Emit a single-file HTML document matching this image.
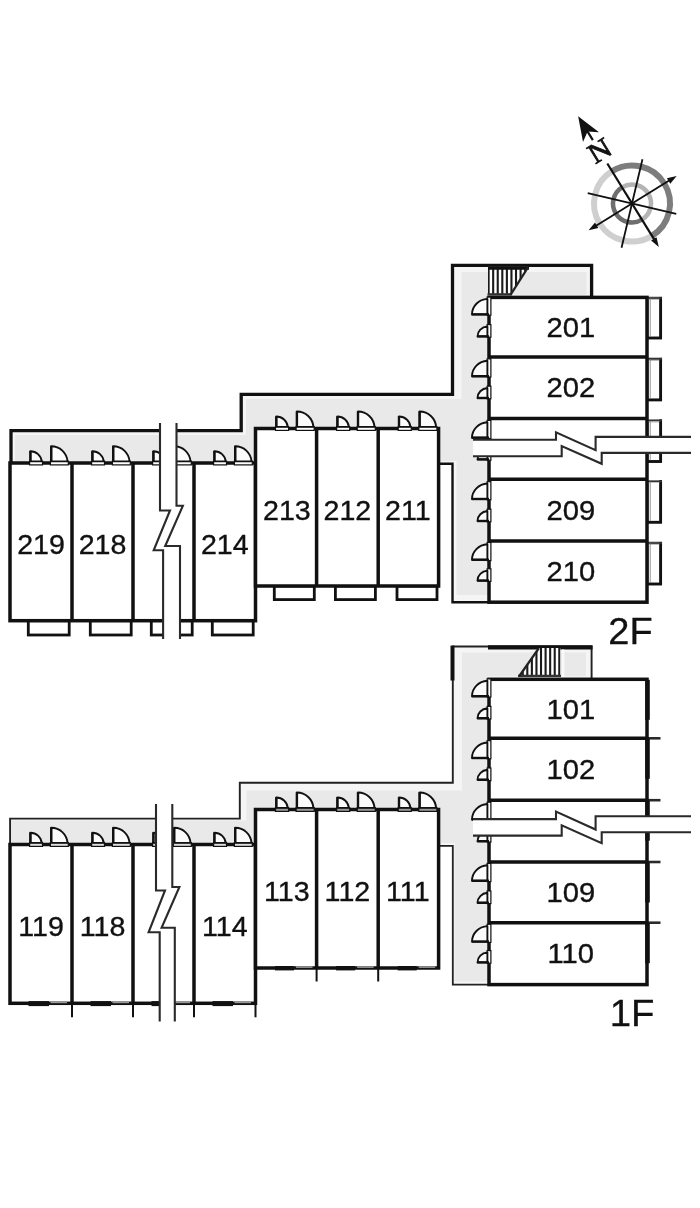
<!DOCTYPE html>
<html lang="ja">
<head>
<meta charset="utf-8">
<title>Floor plan 1F / 2F</title>
<style>
html,body{margin:0;padding:0;background:#fff;}
body{width:700px;height:1208px;overflow:hidden;font-family:"Liberation Sans",Arial,sans-serif;}
svg{display:block;transform:translateZ(0);will-change:transform;}
</style>
</head>
<body>
<svg width="700" height="1208" viewBox="0 0 700 1208" font-family="'Liberation Sans', Arial, sans-serif" fill="#111">
<rect width="700" height="1208" fill="#fff"/>
<g transform="translate(632.0 203.5) rotate(-31.7)">
<path d="M0 -38.0 A38.0 38.0 0 0 1 0 38.0" fill="none" stroke="#7d7d7d" stroke-width="6"/>
<path d="M0 38.0 A38.0 38.0 0 0 1 0 -38.0" fill="none" stroke="#cfcfcf" stroke-width="6"/>
<path d="M0 -19.0 A19.0 19.0 0 0 1 0 19.0" fill="none" stroke="#b4b4b4" stroke-width="4.5"/>
<path d="M0 19.0 A19.0 19.0 0 0 1 0 -19.0" fill="none" stroke="#6e6e6e" stroke-width="4.5"/>
<path d="M0 -88 L0 -74.5 M0 -47 L0 46" stroke="#111" stroke-width="2.2" fill="none"/>
<path d="M-46.5 0 L47.5 0" stroke="#111" stroke-width="1.9" fill="none"/>
<g transform="rotate(45)"><path d="M0 -45.5 L0 45.5 M-45.5 0 L45.5 0" stroke="#111" stroke-width="1.8" fill="none"/></g>
<path d="M0 -102.5 L9.4 -78 L0 -84.5 L-9.4 -78 Z" fill="#111"/>
<path d="M0 51 L3.2 41.5 L-3.2 41.5 Z" fill="#111"/>
<path d="M52.5 0 L43 -3.2 L43 3.2 Z" fill="#111"/>
<path d="M-51 0 L-41.5 -3.2 L-41.5 3.2 Z" fill="#111"/>
<text font-family="'Liberation Serif', serif" font-size="28.5" text-anchor="middle" stroke="#111" stroke-width="0.8" transform="translate(0.3 -52.6) scale(1.07 1)">N</text>
</g>
<path d="M452.5 265.4 L591.6 265.4 L591.6 297.4 L489 297.4 L489 602.2 L452.5 602.2 L452.5 463.8 L438.6 463.8 L438.6 428.5 L255.5 428.5 L255.5 463 L11 463 L11 430.6 L241.2 430.6 L241.2 394.4 L452.5 394.4 Z" fill="#f5f5f5"/>
<path d="M461.5 272 L586.5 272 L586.5 294.8 L487.5 294.8 L487.5 595 L456.5 595 L456.5 461 L441 461 L441 427 L255.5 427 L255.5 461.3 L15 461.3 L15 435 L246 435 L246 399 L461.5 399 Z" fill="#e9e9e9"/>
<path d="M591.6 297.4 L591.6 265.4 L452.5 265.4 L452.5 394.4 L241.2 394.4 L241.2 430.6 L11 430.6 L11 463" fill="none" stroke="#111" stroke-width="3.3" stroke-linejoin="miter"/>
<path d="M438.6 463.8 L452.5 463.8 L452.5 602.2 L489 602.2" fill="none" stroke="#111" stroke-width="2.4" stroke-linejoin="miter"/>
<clipPath id="st2"><path d="M488.0 266.4 L528.0 266.4 L510.5 294.8 L488.0 294.8 Z"/></clipPath>
<g clip-path="url(#st2)">
<rect x="488" y="266.4" width="40" height="28.4" fill="#fff"/>
<line x1="488.6" y1="266.4" x2="488.6" y2="294.8" stroke="#1a1a1a" stroke-width="2.1" stroke-linecap="butt"/>
<line x1="493.17" y1="266.4" x2="493.17" y2="294.8" stroke="#1a1a1a" stroke-width="2.1" stroke-linecap="butt"/>
<line x1="497.74" y1="266.4" x2="497.74" y2="294.8" stroke="#1a1a1a" stroke-width="2.1" stroke-linecap="butt"/>
<line x1="502.31" y1="266.4" x2="502.31" y2="294.8" stroke="#1a1a1a" stroke-width="2.1" stroke-linecap="butt"/>
<line x1="506.88" y1="266.4" x2="506.88" y2="294.8" stroke="#1a1a1a" stroke-width="2.1" stroke-linecap="butt"/>
<line x1="511.45" y1="266.4" x2="511.45" y2="294.8" stroke="#1a1a1a" stroke-width="2.1" stroke-linecap="butt"/>
<line x1="516.02" y1="266.4" x2="516.02" y2="294.8" stroke="#1a1a1a" stroke-width="2.1" stroke-linecap="butt"/>
<line x1="520.59" y1="266.4" x2="520.59" y2="294.8" stroke="#1a1a1a" stroke-width="2.1" stroke-linecap="butt"/>
<line x1="525.16" y1="266.4" x2="525.16" y2="294.8" stroke="#1a1a1a" stroke-width="2.1" stroke-linecap="butt"/>
</g>
<line x1="488" y1="268" x2="529" y2="268" stroke="#111" stroke-width="3.4" stroke-linecap="butt"/>
<line x1="487.5" y1="294.4" x2="511.5" y2="294.4" stroke="#333" stroke-width="2.4" stroke-linecap="butt"/>
<line x1="528" y1="267.4" x2="510.5" y2="294.8" stroke="#222" stroke-width="2.2" stroke-linecap="butt"/>
<rect x="28.3" y="620.7" width="40.9" height="14.3" fill="#fff" stroke="#111" stroke-width="2.8"/>
<rect x="90.3" y="620.7" width="40.9" height="14.3" fill="#fff" stroke="#111" stroke-width="2.8"/>
<rect x="151.3" y="620.7" width="40.9" height="14.3" fill="#fff" stroke="#111" stroke-width="2.8"/>
<rect x="212.3" y="620.7" width="40.9" height="14.3" fill="#fff" stroke="#111" stroke-width="2.8"/>
<rect x="274.3" y="586" width="40" height="13.6" fill="#fff" stroke="#111" stroke-width="2.8"/>
<rect x="335.4" y="586" width="40" height="13.6" fill="#fff" stroke="#111" stroke-width="2.8"/>
<rect x="397" y="586" width="40" height="13.6" fill="#fff" stroke="#111" stroke-width="2.8"/>
<rect x="647" y="298.2" width="13.6" height="39.8" fill="#fff" stroke="#111" stroke-width="2.9"/>
<line x1="647" y1="298.2" x2="659.3" y2="298.2" stroke="#fff" stroke-width="2.8" stroke-linecap="butt"/>
<line x1="647" y1="298" x2="662" y2="298" stroke="#333" stroke-width="1.8" stroke-linecap="butt"/>
<line x1="650.2" y1="298.2" x2="650.2" y2="336.8" stroke="#777" stroke-width="0.8" stroke-linecap="butt"/>
<rect x="647" y="359.1" width="13.6" height="40.8" fill="#fff" stroke="#111" stroke-width="2.9"/>
<line x1="647" y1="359.1" x2="659.3" y2="359.1" stroke="#fff" stroke-width="2.8" stroke-linecap="butt"/>
<line x1="647" y1="358.9" x2="662" y2="358.9" stroke="#333" stroke-width="1.8" stroke-linecap="butt"/>
<line x1="650.2" y1="359.1" x2="650.2" y2="398.7" stroke="#777" stroke-width="0.8" stroke-linecap="butt"/>
<rect x="647" y="420.7" width="13.6" height="40.8" fill="#fff" stroke="#111" stroke-width="2.9"/>
<line x1="647" y1="420.7" x2="659.3" y2="420.7" stroke="#fff" stroke-width="2.8" stroke-linecap="butt"/>
<line x1="647" y1="420.5" x2="662" y2="420.5" stroke="#333" stroke-width="1.8" stroke-linecap="butt"/>
<line x1="650.2" y1="420.7" x2="650.2" y2="460.3" stroke="#777" stroke-width="0.8" stroke-linecap="butt"/>
<rect x="647" y="481.5" width="13.6" height="40.8" fill="#fff" stroke="#111" stroke-width="2.9"/>
<line x1="647" y1="481.5" x2="659.3" y2="481.5" stroke="#fff" stroke-width="2.8" stroke-linecap="butt"/>
<line x1="647" y1="481.3" x2="662" y2="481.3" stroke="#333" stroke-width="1.8" stroke-linecap="butt"/>
<line x1="650.2" y1="481.5" x2="650.2" y2="521.1" stroke="#777" stroke-width="0.8" stroke-linecap="butt"/>
<rect x="647" y="543.2" width="13.6" height="40.8" fill="#fff" stroke="#111" stroke-width="2.9"/>
<line x1="647" y1="543.2" x2="659.3" y2="543.2" stroke="#fff" stroke-width="2.8" stroke-linecap="butt"/>
<line x1="647" y1="543" x2="662" y2="543" stroke="#333" stroke-width="1.8" stroke-linecap="butt"/>
<line x1="650.2" y1="543.2" x2="650.2" y2="582.8" stroke="#777" stroke-width="0.8" stroke-linecap="butt"/>
<rect x="10" y="463" width="245.5" height="157.7" fill="#fff" stroke="#111" stroke-width="3.5"/>
<line x1="72" y1="463" x2="72" y2="620.7" stroke="#111" stroke-width="3.5" stroke-linecap="butt"/>
<line x1="133" y1="463" x2="133" y2="620.7" stroke="#111" stroke-width="3.5" stroke-linecap="butt"/>
<line x1="194" y1="463" x2="194" y2="620.7" stroke="#111" stroke-width="3.5" stroke-linecap="butt"/>
<rect x="255.5" y="428.5" width="183.1" height="157.5" fill="#fff" stroke="#111" stroke-width="3.5"/>
<line x1="316.6" y1="428.5" x2="316.6" y2="586" stroke="#111" stroke-width="3.5" stroke-linecap="butt"/>
<line x1="378.2" y1="428.5" x2="378.2" y2="586" stroke="#111" stroke-width="3.5" stroke-linecap="butt"/>
<rect x="489" y="297.4" width="158" height="304.8" fill="#fff" stroke="#111" stroke-width="3.5"/>
<line x1="489" y1="356.9" x2="647" y2="356.9" stroke="#111" stroke-width="3.5" stroke-linecap="butt"/>
<line x1="489" y1="418.5" x2="647" y2="418.5" stroke="#111" stroke-width="3.5" stroke-linecap="butt"/>
<line x1="489" y1="479.3" x2="647" y2="479.3" stroke="#111" stroke-width="3.5" stroke-linecap="butt"/>
<line x1="489" y1="541" x2="647" y2="541" stroke="#111" stroke-width="3.5" stroke-linecap="butt"/>
<rect x="29.6" y="461.1" width="12.9" height="3.8" fill="#fff" stroke="#111" stroke-width="1.2"/>
<path d="M30.4 461.4 L30.4 451.2 A11.3 11.3 0 0 1 41.7 461.4 Z" fill="#fbfbfb" stroke="#111" stroke-width="1.9" stroke-linejoin="round"/>
<line x1="30.4" y1="461.4" x2="30.4" y2="450.9" stroke="#111" stroke-width="2.4" stroke-linecap="butt"/>
<rect x="50.4" y="461.1" width="17.9" height="3.8" fill="#fff" stroke="#111" stroke-width="1.2"/>
<path d="M51.2 461.4 L51.2 446.2 A16.3 16.3 0 0 1 67.5 461.4 Z" fill="#fbfbfb" stroke="#111" stroke-width="1.9" stroke-linejoin="round"/>
<line x1="51.2" y1="461.4" x2="51.2" y2="445.9" stroke="#111" stroke-width="2.4" stroke-linecap="butt"/>
<rect x="91.6" y="461.1" width="12.9" height="3.8" fill="#fff" stroke="#111" stroke-width="1.2"/>
<path d="M92.4 461.4 L92.4 451.2 A11.3 11.3 0 0 1 103.7 461.4 Z" fill="#fbfbfb" stroke="#111" stroke-width="1.9" stroke-linejoin="round"/>
<line x1="92.4" y1="461.4" x2="92.4" y2="450.9" stroke="#111" stroke-width="2.4" stroke-linecap="butt"/>
<rect x="112.4" y="461.1" width="17.9" height="3.8" fill="#fff" stroke="#111" stroke-width="1.2"/>
<path d="M113.2 461.4 L113.2 446.2 A16.3 16.3 0 0 1 129.5 461.4 Z" fill="#fbfbfb" stroke="#111" stroke-width="1.9" stroke-linejoin="round"/>
<line x1="113.2" y1="461.4" x2="113.2" y2="445.9" stroke="#111" stroke-width="2.4" stroke-linecap="butt"/>
<rect x="152.6" y="461.1" width="12.9" height="3.8" fill="#fff" stroke="#111" stroke-width="1.2"/>
<path d="M153.4 461.4 L153.4 451.2 A11.3 11.3 0 0 1 164.7 461.4 Z" fill="#fbfbfb" stroke="#111" stroke-width="1.9" stroke-linejoin="round"/>
<line x1="153.4" y1="461.4" x2="153.4" y2="450.9" stroke="#111" stroke-width="2.4" stroke-linecap="butt"/>
<rect x="173.4" y="461.1" width="17.9" height="3.8" fill="#fff" stroke="#111" stroke-width="1.2"/>
<path d="M174.2 461.4 L174.2 446.2 A16.3 16.3 0 0 1 190.5 461.4 Z" fill="#fbfbfb" stroke="#111" stroke-width="1.9" stroke-linejoin="round"/>
<line x1="174.2" y1="461.4" x2="174.2" y2="445.9" stroke="#111" stroke-width="2.4" stroke-linecap="butt"/>
<rect x="213.6" y="461.1" width="12.9" height="3.8" fill="#fff" stroke="#111" stroke-width="1.2"/>
<path d="M214.4 461.4 L214.4 451.2 A11.3 11.3 0 0 1 225.7 461.4 Z" fill="#fbfbfb" stroke="#111" stroke-width="1.9" stroke-linejoin="round"/>
<line x1="214.4" y1="461.4" x2="214.4" y2="450.9" stroke="#111" stroke-width="2.4" stroke-linecap="butt"/>
<rect x="234.4" y="461.1" width="17.9" height="3.8" fill="#fff" stroke="#111" stroke-width="1.2"/>
<path d="M235.2 461.4 L235.2 446.2 A16.3 16.3 0 0 1 251.5 461.4 Z" fill="#fbfbfb" stroke="#111" stroke-width="1.9" stroke-linejoin="round"/>
<line x1="235.2" y1="461.4" x2="235.2" y2="445.9" stroke="#111" stroke-width="2.4" stroke-linecap="butt"/>
<rect x="275.5" y="426.6" width="13.1" height="3.8" fill="#fff" stroke="#111" stroke-width="1.2"/>
<path d="M276.3 426.9 L276.3 416.5 A11.5 11.5 0 0 1 287.8 426.9 Z" fill="#fbfbfb" stroke="#111" stroke-width="1.9" stroke-linejoin="round"/>
<line x1="276.3" y1="426.9" x2="276.3" y2="416.2" stroke="#111" stroke-width="2.4" stroke-linecap="butt"/>
<rect x="296.1" y="426.6" width="18.1" height="3.8" fill="#fff" stroke="#111" stroke-width="1.2"/>
<path d="M296.9 426.9 L296.9 411.5 A16.5 16.5 0 0 1 313.4 426.9 Z" fill="#fbfbfb" stroke="#111" stroke-width="1.9" stroke-linejoin="round"/>
<line x1="296.9" y1="426.9" x2="296.9" y2="411.2" stroke="#111" stroke-width="2.4" stroke-linecap="butt"/>
<rect x="336.6" y="426.6" width="13.1" height="3.8" fill="#fff" stroke="#111" stroke-width="1.2"/>
<path d="M337.4 426.9 L337.4 416.5 A11.5 11.5 0 0 1 348.9 426.9 Z" fill="#fbfbfb" stroke="#111" stroke-width="1.9" stroke-linejoin="round"/>
<line x1="337.4" y1="426.9" x2="337.4" y2="416.2" stroke="#111" stroke-width="2.4" stroke-linecap="butt"/>
<rect x="357.2" y="426.6" width="18.1" height="3.8" fill="#fff" stroke="#111" stroke-width="1.2"/>
<path d="M358 426.9 L358 411.5 A16.5 16.5 0 0 1 374.5 426.9 Z" fill="#fbfbfb" stroke="#111" stroke-width="1.9" stroke-linejoin="round"/>
<line x1="358" y1="426.9" x2="358" y2="411.2" stroke="#111" stroke-width="2.4" stroke-linecap="butt"/>
<rect x="398.2" y="426.6" width="13.1" height="3.8" fill="#fff" stroke="#111" stroke-width="1.2"/>
<path d="M399 426.9 L399 416.5 A11.5 11.5 0 0 1 410.5 426.9 Z" fill="#fbfbfb" stroke="#111" stroke-width="1.9" stroke-linejoin="round"/>
<line x1="399" y1="426.9" x2="399" y2="416.2" stroke="#111" stroke-width="2.4" stroke-linecap="butt"/>
<rect x="418.8" y="426.6" width="18.1" height="3.8" fill="#fff" stroke="#111" stroke-width="1.2"/>
<path d="M419.6 426.9 L419.6 411.5 A16.5 16.5 0 0 1 436.1 426.9 Z" fill="#fbfbfb" stroke="#111" stroke-width="1.9" stroke-linejoin="round"/>
<line x1="419.6" y1="426.9" x2="419.6" y2="411.2" stroke="#111" stroke-width="2.4" stroke-linecap="butt"/>
<rect x="487.1" y="297.1" width="3.8" height="18.1" fill="#fff" stroke="#111" stroke-width="1.2"/>
<path d="M487.4 314.4 L472 314.4 A16.5 15.5 0 0 1 487.4 298.9 Z" fill="#fbfbfb" stroke="#111" stroke-width="1.9" stroke-linejoin="round"/>
<line x1="471.7" y1="314.4" x2="489" y2="314.4" stroke="#111" stroke-width="2.4" stroke-linecap="butt"/>
<rect x="487.1" y="324.6" width="3.8" height="12.6" fill="#fff" stroke="#111" stroke-width="1.2"/>
<path d="M487.4 336.4 L477.5 336.4 A11 10 0 0 1 487.4 326.4 Z" fill="#fbfbfb" stroke="#111" stroke-width="1.9" stroke-linejoin="round"/>
<line x1="477.2" y1="336.4" x2="489" y2="336.4" stroke="#111" stroke-width="2.4" stroke-linecap="butt"/>
<rect x="487.1" y="358.9" width="3.8" height="18.1" fill="#fff" stroke="#111" stroke-width="1.2"/>
<path d="M487.4 376.2 L472 376.2 A16.5 15.5 0 0 1 487.4 360.7 Z" fill="#fbfbfb" stroke="#111" stroke-width="1.9" stroke-linejoin="round"/>
<line x1="471.7" y1="376.2" x2="489" y2="376.2" stroke="#111" stroke-width="2.4" stroke-linecap="butt"/>
<rect x="487.1" y="386.2" width="3.8" height="12.6" fill="#fff" stroke="#111" stroke-width="1.2"/>
<path d="M487.4 398 L477.5 398 A11 10 0 0 1 487.4 388 Z" fill="#fbfbfb" stroke="#111" stroke-width="1.9" stroke-linejoin="round"/>
<line x1="477.2" y1="398" x2="489" y2="398" stroke="#111" stroke-width="2.4" stroke-linecap="butt"/>
<rect x="487.1" y="420.4" width="3.8" height="18.1" fill="#fff" stroke="#111" stroke-width="1.2"/>
<path d="M487.4 437.7 L472 437.7 A16.5 15.5 0 0 1 487.4 422.2 Z" fill="#fbfbfb" stroke="#111" stroke-width="1.9" stroke-linejoin="round"/>
<line x1="471.7" y1="437.7" x2="489" y2="437.7" stroke="#111" stroke-width="2.4" stroke-linecap="butt"/>
<rect x="487.1" y="447.6" width="3.8" height="12.6" fill="#fff" stroke="#111" stroke-width="1.2"/>
<path d="M487.4 459.4 L477.5 459.4 A11 10 0 0 1 487.4 449.4 Z" fill="#fbfbfb" stroke="#111" stroke-width="1.9" stroke-linejoin="round"/>
<line x1="477.2" y1="459.4" x2="489" y2="459.4" stroke="#111" stroke-width="2.4" stroke-linecap="butt"/>
<rect x="487.1" y="481.7" width="3.8" height="18.1" fill="#fff" stroke="#111" stroke-width="1.2"/>
<path d="M487.4 499 L472 499 A16.5 15.5 0 0 1 487.4 483.5 Z" fill="#fbfbfb" stroke="#111" stroke-width="1.9" stroke-linejoin="round"/>
<line x1="471.7" y1="499" x2="489" y2="499" stroke="#111" stroke-width="2.4" stroke-linecap="butt"/>
<rect x="487.1" y="509.2" width="3.8" height="12.6" fill="#fff" stroke="#111" stroke-width="1.2"/>
<path d="M487.4 521 L477.5 521 A11 10 0 0 1 487.4 511 Z" fill="#fbfbfb" stroke="#111" stroke-width="1.9" stroke-linejoin="round"/>
<line x1="477.2" y1="521" x2="489" y2="521" stroke="#111" stroke-width="2.4" stroke-linecap="butt"/>
<rect x="487.1" y="542.5" width="3.8" height="18.1" fill="#fff" stroke="#111" stroke-width="1.2"/>
<path d="M487.4 559.8 L472 559.8 A16.5 15.5 0 0 1 487.4 544.3 Z" fill="#fbfbfb" stroke="#111" stroke-width="1.9" stroke-linejoin="round"/>
<line x1="471.7" y1="559.8" x2="489" y2="559.8" stroke="#111" stroke-width="2.4" stroke-linecap="butt"/>
<rect x="487.1" y="568.8" width="3.8" height="12.6" fill="#fff" stroke="#111" stroke-width="1.2"/>
<path d="M487.4 580.6 L477.5 580.6 A11 10 0 0 1 487.4 570.6 Z" fill="#fbfbfb" stroke="#111" stroke-width="1.9" stroke-linejoin="round"/>
<line x1="477.2" y1="580.6" x2="489" y2="580.6" stroke="#111" stroke-width="2.4" stroke-linecap="butt"/>
<path d="M160 423 L160 510.5 L170 510.5 L153.7 550.3 L163.1 550.3 L163.1 639 L180 639 L180 546 L165.2 546 L182.9 505.7 L176.5 505.7 L176.5 423 Z" fill="#fff"/>
<path d="M160 423 L160 510.5 L170 510.5 L153.7 550.3 L163.1 550.3 L163.1 639" fill="none" stroke="#2a2a2a" stroke-width="2.1" stroke-linejoin="miter"/>
<path d="M176.5 423 L176.5 505.7 L182.9 505.7 L165.2 546 L180 546 L180 639" fill="none" stroke="#2a2a2a" stroke-width="2.1" stroke-linejoin="miter"/>
<path d="M473 439.8 L556 439.8 L556 432.3 L595.6 450.2 L595.6 436.9 L691 436.9 L691 452.9 L601.7 452.9 L601.7 463.8 L561.7 446 L561.7 456.3 L473 456.3 Z" fill="#fff"/>
<path d="M473 439.8 L556 439.8 L556 432.3 L595.6 450.2 L595.6 436.9 L691 436.9" fill="none" stroke="#2a2a2a" stroke-width="2.1" stroke-linejoin="miter"/>
<path d="M473 456.3 L561.7 456.3 L561.7 446 L601.7 463.8 L601.7 452.9 L691 452.9" fill="none" stroke="#2a2a2a" stroke-width="2.1" stroke-linejoin="miter"/>
<text transform="translate(41 554.15) scale(1.06 1)" font-size="27" text-anchor="middle" stroke="#111" stroke-width="0.35">219</text>
<text transform="translate(102.5 554.15) scale(1.06 1)" font-size="27" text-anchor="middle" stroke="#111" stroke-width="0.35">218</text>
<text transform="translate(224.75 554.15) scale(1.06 1)" font-size="27" text-anchor="middle" stroke="#111" stroke-width="0.35">214</text>
<text transform="translate(286.85 519.55) scale(1.06 1)" font-size="27" text-anchor="middle" stroke="#111" stroke-width="0.35">213</text>
<text transform="translate(347.4 519.55) scale(1.06 1)" font-size="27" text-anchor="middle" stroke="#111" stroke-width="0.35">212</text>
<text transform="translate(407.8 519.55) scale(1.06 1)" font-size="27" text-anchor="middle" stroke="#111" stroke-width="0.35">211</text>
<text transform="translate(570.8 336.85) scale(1.08 1)" font-size="27" text-anchor="middle" stroke="#111" stroke-width="0.35">201</text>
<text transform="translate(570.8 397.4) scale(1.08 1)" font-size="27" text-anchor="middle" stroke="#111" stroke-width="0.35">202</text>
<text transform="translate(570.8 519.85) scale(1.08 1)" font-size="27" text-anchor="middle" stroke="#111" stroke-width="0.35">209</text>
<text transform="translate(570.8 581.3) scale(1.08 1)" font-size="27" text-anchor="middle" stroke="#111" stroke-width="0.35">210</text>
<text transform="translate(630.5 644.2) scale(1.04 1)" font-size="36.5" text-anchor="middle" stroke="#111" stroke-width="0.3">2F</text>
<path d="M452.8 646.5 L591.6 646.5 L591.6 679.3 L489 679.3 L489 984.6 L452.8 984.6 L452.8 845.8 L438.6 845.8 L438.6 809.5 L255.5 809.5 L255.5 844.5 L11 844.5 L11 818.6 L239.8 818.6 L239.8 782.8 L452.8 782.8 Z" fill="#f5f5f5"/>
<path d="M462 652.5 L586 652.5 L586 676.3 L487.5 676.3 L487.5 981.5 L454.5 981.5 L454.5 843 L441 843 L441 808 L255.5 808 L255.5 843 L11.8 843 L11.8 820.6 L246.5 820.6 L246.5 790.5 L462 790.5 Z" fill="#e9e9e9"/>
<path d="M591.6 679.3 L591.6 646.5 L452.8 646.5 L452.8 782.8 L239.8 782.8 L239.8 818.6 L10.1 818.6 L10.1 844.5" fill="none" stroke="#222" stroke-width="1.9" stroke-linejoin="miter"/>
<line x1="488" y1="647.3" x2="592.5" y2="647.3" stroke="#111" stroke-width="4.2" stroke-linecap="butt"/>
<line x1="452.5" y1="645.6" x2="452.5" y2="680.5" stroke="#111" stroke-width="4" stroke-linecap="butt"/>
<path d="M438.6 845.8 L452.8 845.8 L452.8 984.6 L489 984.6" fill="none" stroke="#222" stroke-width="1.8" stroke-linejoin="miter"/>
<clipPath id="st1"><path d="M539.0 648.0 L560.5 648.0 L560.5 676.5 L519.0 676.5 Z"/></clipPath>
<g clip-path="url(#st1)">
<rect x="519" y="648" width="41.5" height="28.5" fill="#fff"/>
<line x1="559.3" y1="648" x2="559.3" y2="676.5" stroke="#1a1a1a" stroke-width="2.1" stroke-linecap="butt"/>
<line x1="554.73" y1="648" x2="554.73" y2="676.5" stroke="#1a1a1a" stroke-width="2.1" stroke-linecap="butt"/>
<line x1="550.16" y1="648" x2="550.16" y2="676.5" stroke="#1a1a1a" stroke-width="2.1" stroke-linecap="butt"/>
<line x1="545.59" y1="648" x2="545.59" y2="676.5" stroke="#1a1a1a" stroke-width="2.1" stroke-linecap="butt"/>
<line x1="541.02" y1="648" x2="541.02" y2="676.5" stroke="#1a1a1a" stroke-width="2.1" stroke-linecap="butt"/>
<line x1="536.45" y1="648" x2="536.45" y2="676.5" stroke="#1a1a1a" stroke-width="2.1" stroke-linecap="butt"/>
<line x1="531.88" y1="648" x2="531.88" y2="676.5" stroke="#1a1a1a" stroke-width="2.1" stroke-linecap="butt"/>
<line x1="527.31" y1="648" x2="527.31" y2="676.5" stroke="#1a1a1a" stroke-width="2.1" stroke-linecap="butt"/>
<line x1="522.74" y1="648" x2="522.74" y2="676.5" stroke="#1a1a1a" stroke-width="2.1" stroke-linecap="butt"/>
</g>
<line x1="518" y1="675.9" x2="561" y2="675.9" stroke="#333" stroke-width="2.4" stroke-linecap="butt"/>
<line x1="519" y1="676.5" x2="539" y2="648" stroke="#222" stroke-width="2.2" stroke-linecap="butt"/>
<line x1="563.1" y1="649.5" x2="563.1" y2="677.1" stroke="#fafafa" stroke-width="2.4" stroke-linecap="butt"/>
<line x1="72" y1="1003.3" x2="72" y2="1017.3" stroke="#111" stroke-width="2" stroke-linecap="butt"/>
<line x1="133" y1="1003.3" x2="133" y2="1017.3" stroke="#111" stroke-width="2" stroke-linecap="butt"/>
<line x1="194" y1="1003.3" x2="194" y2="1017.3" stroke="#111" stroke-width="2" stroke-linecap="butt"/>
<line x1="255.5" y1="1003.3" x2="255.5" y2="1017.3" stroke="#111" stroke-width="2" stroke-linecap="butt"/>
<line x1="316.6" y1="968" x2="316.6" y2="981.5" stroke="#111" stroke-width="2" stroke-linecap="butt"/>
<line x1="378.2" y1="968" x2="378.2" y2="981.5" stroke="#111" stroke-width="2" stroke-linecap="butt"/>
<line x1="647" y1="738.3" x2="660.5" y2="738.3" stroke="#2a2a2a" stroke-width="2.6" stroke-linecap="butt"/>
<line x1="647" y1="800.2" x2="660.5" y2="800.2" stroke="#2a2a2a" stroke-width="2.6" stroke-linecap="butt"/>
<line x1="647" y1="862" x2="660.5" y2="862" stroke="#2a2a2a" stroke-width="2.6" stroke-linecap="butt"/>
<line x1="647" y1="922.7" x2="660.5" y2="922.7" stroke="#2a2a2a" stroke-width="2.6" stroke-linecap="butt"/>
<rect x="10" y="844.5" width="245.5" height="158.8" fill="#fff" stroke="#111" stroke-width="3.5"/>
<line x1="72" y1="844.5" x2="72" y2="1003.3" stroke="#111" stroke-width="3.5" stroke-linecap="butt"/>
<line x1="133" y1="844.5" x2="133" y2="1003.3" stroke="#111" stroke-width="3.5" stroke-linecap="butt"/>
<line x1="194" y1="844.5" x2="194" y2="1003.3" stroke="#111" stroke-width="3.5" stroke-linecap="butt"/>
<rect x="255.5" y="809.5" width="183.1" height="158.5" fill="#fff" stroke="#111" stroke-width="3.5"/>
<line x1="316.6" y1="809.5" x2="316.6" y2="968" stroke="#111" stroke-width="3.5" stroke-linecap="butt"/>
<line x1="378.2" y1="809.5" x2="378.2" y2="968" stroke="#111" stroke-width="3.5" stroke-linecap="butt"/>
<rect x="489" y="679.3" width="158" height="305.3" fill="#fff" stroke="#111" stroke-width="3.5"/>
<line x1="489" y1="738.3" x2="647" y2="738.3" stroke="#111" stroke-width="3.5" stroke-linecap="butt"/>
<line x1="489" y1="800.2" x2="647" y2="800.2" stroke="#111" stroke-width="3.5" stroke-linecap="butt"/>
<line x1="489" y1="862" x2="647" y2="862" stroke="#111" stroke-width="3.5" stroke-linecap="butt"/>
<line x1="489" y1="922.7" x2="647" y2="922.7" stroke="#111" stroke-width="3.5" stroke-linecap="butt"/>
<line x1="28.5" y1="1003.6" x2="49" y2="1003.6" stroke="#111" stroke-width="5" stroke-linecap="butt"/>
<line x1="50.5" y1="1002.4" x2="67" y2="1002.4" stroke="#999" stroke-width="1.6" stroke-linecap="butt"/>
<line x1="90.5" y1="1003.6" x2="111" y2="1003.6" stroke="#111" stroke-width="5" stroke-linecap="butt"/>
<line x1="112.5" y1="1002.4" x2="129" y2="1002.4" stroke="#999" stroke-width="1.6" stroke-linecap="butt"/>
<line x1="151.5" y1="1003.6" x2="172" y2="1003.6" stroke="#111" stroke-width="5" stroke-linecap="butt"/>
<line x1="173.5" y1="1002.4" x2="190" y2="1002.4" stroke="#999" stroke-width="1.6" stroke-linecap="butt"/>
<line x1="212.5" y1="1003.6" x2="233" y2="1003.6" stroke="#111" stroke-width="5" stroke-linecap="butt"/>
<line x1="234.5" y1="1002.4" x2="251" y2="1002.4" stroke="#999" stroke-width="1.6" stroke-linecap="butt"/>
<line x1="275" y1="968.2" x2="294" y2="968.2" stroke="#111" stroke-width="4.4" stroke-linecap="butt"/>
<line x1="296" y1="967.1" x2="312.5" y2="967.1" stroke="#999" stroke-width="1.6" stroke-linecap="butt"/>
<line x1="336.1" y1="968.2" x2="355.1" y2="968.2" stroke="#111" stroke-width="4.4" stroke-linecap="butt"/>
<line x1="357.1" y1="967.1" x2="373.6" y2="967.1" stroke="#999" stroke-width="1.6" stroke-linecap="butt"/>
<line x1="397.7" y1="968.2" x2="416.7" y2="968.2" stroke="#111" stroke-width="4.4" stroke-linecap="butt"/>
<line x1="418.7" y1="967.1" x2="435.2" y2="967.1" stroke="#999" stroke-width="1.6" stroke-linecap="butt"/>
<line x1="647.5" y1="679.8" x2="647.5" y2="719.8" stroke="#111" stroke-width="4.6" stroke-linecap="butt"/>
<line x1="647.5" y1="738.8" x2="647.5" y2="778.8" stroke="#111" stroke-width="4.6" stroke-linecap="butt"/>
<line x1="647.5" y1="800.7" x2="647.5" y2="840.7" stroke="#111" stroke-width="4.6" stroke-linecap="butt"/>
<line x1="647.5" y1="862.5" x2="647.5" y2="902.5" stroke="#111" stroke-width="4.6" stroke-linecap="butt"/>
<line x1="647.5" y1="923.2" x2="647.5" y2="963.2" stroke="#111" stroke-width="4.6" stroke-linecap="butt"/>
<rect x="29.6" y="842.6" width="12.9" height="3.8" fill="#ddd" stroke="#111" stroke-width="1.2"/>
<path d="M30.4 842.9 L30.4 832.7 A11.3 11.3 0 0 1 41.7 842.9 Z" fill="#fbfbfb" stroke="#111" stroke-width="1.9" stroke-linejoin="round"/>
<line x1="30.4" y1="842.9" x2="30.4" y2="832.4" stroke="#111" stroke-width="2.4" stroke-linecap="butt"/>
<rect x="50.4" y="842.6" width="17.9" height="3.8" fill="#ddd" stroke="#111" stroke-width="1.2"/>
<path d="M51.2 842.9 L51.2 827.7 A16.3 16.3 0 0 1 67.5 842.9 Z" fill="#fbfbfb" stroke="#111" stroke-width="1.9" stroke-linejoin="round"/>
<line x1="51.2" y1="842.9" x2="51.2" y2="827.4" stroke="#111" stroke-width="2.4" stroke-linecap="butt"/>
<rect x="91.6" y="842.6" width="12.9" height="3.8" fill="#ddd" stroke="#111" stroke-width="1.2"/>
<path d="M92.4 842.9 L92.4 832.7 A11.3 11.3 0 0 1 103.7 842.9 Z" fill="#fbfbfb" stroke="#111" stroke-width="1.9" stroke-linejoin="round"/>
<line x1="92.4" y1="842.9" x2="92.4" y2="832.4" stroke="#111" stroke-width="2.4" stroke-linecap="butt"/>
<rect x="112.4" y="842.6" width="17.9" height="3.8" fill="#ddd" stroke="#111" stroke-width="1.2"/>
<path d="M113.2 842.9 L113.2 827.7 A16.3 16.3 0 0 1 129.5 842.9 Z" fill="#fbfbfb" stroke="#111" stroke-width="1.9" stroke-linejoin="round"/>
<line x1="113.2" y1="842.9" x2="113.2" y2="827.4" stroke="#111" stroke-width="2.4" stroke-linecap="butt"/>
<rect x="152.6" y="842.6" width="12.9" height="3.8" fill="#ddd" stroke="#111" stroke-width="1.2"/>
<path d="M153.4 842.9 L153.4 832.7 A11.3 11.3 0 0 1 164.7 842.9 Z" fill="#fbfbfb" stroke="#111" stroke-width="1.9" stroke-linejoin="round"/>
<line x1="153.4" y1="842.9" x2="153.4" y2="832.4" stroke="#111" stroke-width="2.4" stroke-linecap="butt"/>
<rect x="173.4" y="842.6" width="17.9" height="3.8" fill="#ddd" stroke="#111" stroke-width="1.2"/>
<path d="M174.2 842.9 L174.2 827.7 A16.3 16.3 0 0 1 190.5 842.9 Z" fill="#fbfbfb" stroke="#111" stroke-width="1.9" stroke-linejoin="round"/>
<line x1="174.2" y1="842.9" x2="174.2" y2="827.4" stroke="#111" stroke-width="2.4" stroke-linecap="butt"/>
<rect x="213.6" y="842.6" width="12.9" height="3.8" fill="#ddd" stroke="#111" stroke-width="1.2"/>
<path d="M214.4 842.9 L214.4 832.7 A11.3 11.3 0 0 1 225.7 842.9 Z" fill="#fbfbfb" stroke="#111" stroke-width="1.9" stroke-linejoin="round"/>
<line x1="214.4" y1="842.9" x2="214.4" y2="832.4" stroke="#111" stroke-width="2.4" stroke-linecap="butt"/>
<rect x="234.4" y="842.6" width="17.9" height="3.8" fill="#ddd" stroke="#111" stroke-width="1.2"/>
<path d="M235.2 842.9 L235.2 827.7 A16.3 16.3 0 0 1 251.5 842.9 Z" fill="#fbfbfb" stroke="#111" stroke-width="1.9" stroke-linejoin="round"/>
<line x1="235.2" y1="842.9" x2="235.2" y2="827.4" stroke="#111" stroke-width="2.4" stroke-linecap="butt"/>
<rect x="275.5" y="807.6" width="13.1" height="3.8" fill="#999" stroke="#111" stroke-width="1.2"/>
<path d="M276.3 807.9 L276.3 797.5 A11.5 11.5 0 0 1 287.8 807.9 Z" fill="#fbfbfb" stroke="#111" stroke-width="1.9" stroke-linejoin="round"/>
<line x1="276.3" y1="807.9" x2="276.3" y2="797.2" stroke="#111" stroke-width="2.4" stroke-linecap="butt"/>
<rect x="296.1" y="807.6" width="18.1" height="3.8" fill="#999" stroke="#111" stroke-width="1.2"/>
<path d="M296.9 807.9 L296.9 792.5 A16.5 16.5 0 0 1 313.4 807.9 Z" fill="#fbfbfb" stroke="#111" stroke-width="1.9" stroke-linejoin="round"/>
<line x1="296.9" y1="807.9" x2="296.9" y2="792.2" stroke="#111" stroke-width="2.4" stroke-linecap="butt"/>
<rect x="336.6" y="807.6" width="13.1" height="3.8" fill="#999" stroke="#111" stroke-width="1.2"/>
<path d="M337.4 807.9 L337.4 797.5 A11.5 11.5 0 0 1 348.9 807.9 Z" fill="#fbfbfb" stroke="#111" stroke-width="1.9" stroke-linejoin="round"/>
<line x1="337.4" y1="807.9" x2="337.4" y2="797.2" stroke="#111" stroke-width="2.4" stroke-linecap="butt"/>
<rect x="357.2" y="807.6" width="18.1" height="3.8" fill="#999" stroke="#111" stroke-width="1.2"/>
<path d="M358 807.9 L358 792.5 A16.5 16.5 0 0 1 374.5 807.9 Z" fill="#fbfbfb" stroke="#111" stroke-width="1.9" stroke-linejoin="round"/>
<line x1="358" y1="807.9" x2="358" y2="792.2" stroke="#111" stroke-width="2.4" stroke-linecap="butt"/>
<rect x="398.2" y="807.6" width="13.1" height="3.8" fill="#999" stroke="#111" stroke-width="1.2"/>
<path d="M399 807.9 L399 797.5 A11.5 11.5 0 0 1 410.5 807.9 Z" fill="#fbfbfb" stroke="#111" stroke-width="1.9" stroke-linejoin="round"/>
<line x1="399" y1="807.9" x2="399" y2="797.2" stroke="#111" stroke-width="2.4" stroke-linecap="butt"/>
<rect x="418.8" y="807.6" width="18.1" height="3.8" fill="#999" stroke="#111" stroke-width="1.2"/>
<path d="M419.6 807.9 L419.6 792.5 A16.5 16.5 0 0 1 436.1 807.9 Z" fill="#fbfbfb" stroke="#111" stroke-width="1.9" stroke-linejoin="round"/>
<line x1="419.6" y1="807.9" x2="419.6" y2="792.2" stroke="#111" stroke-width="2.4" stroke-linecap="butt"/>
<rect x="487.1" y="678.9" width="3.8" height="18.1" fill="#fff" stroke="#111" stroke-width="1.2"/>
<path d="M487.4 696.2 L472 696.2 A16.5 15.5 0 0 1 487.4 680.7 Z" fill="#fbfbfb" stroke="#111" stroke-width="1.9" stroke-linejoin="round"/>
<line x1="471.7" y1="696.2" x2="489" y2="696.2" stroke="#111" stroke-width="2.4" stroke-linecap="butt"/>
<rect x="487.1" y="706.4" width="3.8" height="12.6" fill="#fff" stroke="#111" stroke-width="1.2"/>
<path d="M487.4 718.2 L477.5 718.2 A11 10 0 0 1 487.4 708.2 Z" fill="#fbfbfb" stroke="#111" stroke-width="1.9" stroke-linejoin="round"/>
<line x1="477.2" y1="718.2" x2="489" y2="718.2" stroke="#111" stroke-width="2.4" stroke-linecap="butt"/>
<rect x="487.1" y="740.7" width="3.8" height="18.1" fill="#fff" stroke="#111" stroke-width="1.2"/>
<path d="M487.4 758 L472 758 A16.5 15.5 0 0 1 487.4 742.5 Z" fill="#fbfbfb" stroke="#111" stroke-width="1.9" stroke-linejoin="round"/>
<line x1="471.7" y1="758" x2="489" y2="758" stroke="#111" stroke-width="2.4" stroke-linecap="butt"/>
<rect x="487.1" y="768" width="3.8" height="12.6" fill="#fff" stroke="#111" stroke-width="1.2"/>
<path d="M487.4 779.8 L477.5 779.8 A11 10 0 0 1 487.4 769.8 Z" fill="#fbfbfb" stroke="#111" stroke-width="1.9" stroke-linejoin="round"/>
<line x1="477.2" y1="779.8" x2="489" y2="779.8" stroke="#111" stroke-width="2.4" stroke-linecap="butt"/>
<rect x="487.1" y="802.2" width="3.8" height="18.1" fill="#fff" stroke="#111" stroke-width="1.2"/>
<path d="M487.4 819.5 L472 819.5 A16.5 15.5 0 0 1 487.4 804 Z" fill="#fbfbfb" stroke="#111" stroke-width="1.9" stroke-linejoin="round"/>
<line x1="471.7" y1="819.5" x2="489" y2="819.5" stroke="#111" stroke-width="2.4" stroke-linecap="butt"/>
<rect x="487.1" y="829.4" width="3.8" height="12.6" fill="#fff" stroke="#111" stroke-width="1.2"/>
<path d="M487.4 841.2 L477.5 841.2 A11 10 0 0 1 487.4 831.2 Z" fill="#fbfbfb" stroke="#111" stroke-width="1.9" stroke-linejoin="round"/>
<line x1="477.2" y1="841.2" x2="489" y2="841.2" stroke="#111" stroke-width="2.4" stroke-linecap="butt"/>
<rect x="487.1" y="863.5" width="3.8" height="18.1" fill="#fff" stroke="#111" stroke-width="1.2"/>
<path d="M487.4 880.8 L472 880.8 A16.5 15.5 0 0 1 487.4 865.3 Z" fill="#fbfbfb" stroke="#111" stroke-width="1.9" stroke-linejoin="round"/>
<line x1="471.7" y1="880.8" x2="489" y2="880.8" stroke="#111" stroke-width="2.4" stroke-linecap="butt"/>
<rect x="487.1" y="891" width="3.8" height="12.6" fill="#fff" stroke="#111" stroke-width="1.2"/>
<path d="M487.4 902.8 L477.5 902.8 A11 10 0 0 1 487.4 892.8 Z" fill="#fbfbfb" stroke="#111" stroke-width="1.9" stroke-linejoin="round"/>
<line x1="477.2" y1="902.8" x2="489" y2="902.8" stroke="#111" stroke-width="2.4" stroke-linecap="butt"/>
<rect x="487.1" y="924.3" width="3.8" height="18.1" fill="#fff" stroke="#111" stroke-width="1.2"/>
<path d="M487.4 941.6 L472 941.6 A16.5 15.5 0 0 1 487.4 926.1 Z" fill="#fbfbfb" stroke="#111" stroke-width="1.9" stroke-linejoin="round"/>
<line x1="471.7" y1="941.6" x2="489" y2="941.6" stroke="#111" stroke-width="2.4" stroke-linecap="butt"/>
<rect x="487.1" y="950.6" width="3.8" height="12.6" fill="#fff" stroke="#111" stroke-width="1.2"/>
<path d="M487.4 962.4 L477.5 962.4 A11 10 0 0 1 487.4 952.4 Z" fill="#fbfbfb" stroke="#111" stroke-width="1.9" stroke-linejoin="round"/>
<line x1="477.2" y1="962.4" x2="489" y2="962.4" stroke="#111" stroke-width="2.4" stroke-linecap="butt"/>
<path d="M156 804 L156 890.5 L165 890.5 L148.6 932.3 L159.7 932.3 L159.7 1021.5 L174.8 1021.5 L174.8 927.8 L161.6 927.8 L179.4 887 L172.3 887 L172.3 804 Z" fill="#fff"/>
<path d="M156 804 L156 890.5 L165 890.5 L148.6 932.3 L159.7 932.3 L159.7 1021.5" fill="none" stroke="#2a2a2a" stroke-width="2.1" stroke-linejoin="miter"/>
<path d="M172.3 804 L172.3 887 L179.4 887 L161.6 927.8 L174.8 927.8 L174.8 1021.5" fill="none" stroke="#2a2a2a" stroke-width="2.1" stroke-linejoin="miter"/>
<path d="M473 819.1 L556 819.1 L556 811.6 L595.6 829.5 L595.6 816.2 L691 816.2 L691 832.2 L601.7 832.2 L601.7 843.1 L561.7 825.3 L561.7 835.6 L473 835.6 Z" fill="#fff"/>
<path d="M473 819.1 L556 819.1 L556 811.6 L595.6 829.5 L595.6 816.2 L691 816.2" fill="none" stroke="#2a2a2a" stroke-width="2.1" stroke-linejoin="miter"/>
<path d="M473 835.6 L561.7 835.6 L561.7 825.3 L601.7 843.1 L601.7 832.2 L691 832.2" fill="none" stroke="#2a2a2a" stroke-width="2.1" stroke-linejoin="miter"/>
<text transform="translate(41 936.2) scale(1.06 1)" font-size="27" text-anchor="middle" stroke="#111" stroke-width="0.35">119</text>
<text transform="translate(102.5 936.2) scale(1.06 1)" font-size="27" text-anchor="middle" stroke="#111" stroke-width="0.35">118</text>
<text transform="translate(224.75 936.2) scale(1.06 1)" font-size="27" text-anchor="middle" stroke="#111" stroke-width="0.35">114</text>
<text transform="translate(286.85 901.05) scale(1.06 1)" font-size="27" text-anchor="middle" stroke="#111" stroke-width="0.35">113</text>
<text transform="translate(347.4 901.05) scale(1.06 1)" font-size="27" text-anchor="middle" stroke="#111" stroke-width="0.35">112</text>
<text transform="translate(407.8 901.05) scale(1.06 1)" font-size="27" text-anchor="middle" stroke="#111" stroke-width="0.35">111</text>
<text transform="translate(570.8 718.5) scale(1.08 1)" font-size="27" text-anchor="middle" stroke="#111" stroke-width="0.35">101</text>
<text transform="translate(570.8 778.95) scale(1.08 1)" font-size="27" text-anchor="middle" stroke="#111" stroke-width="0.35">102</text>
<text transform="translate(570.8 902.05) scale(1.08 1)" font-size="27" text-anchor="middle" stroke="#111" stroke-width="0.35">109</text>
<text transform="translate(570.8 963.35) scale(1.08 1)" font-size="27" text-anchor="middle" stroke="#111" stroke-width="0.35">110</text>
<text transform="translate(632 1025.6) scale(1.05 1)" font-size="36.5" text-anchor="middle" stroke="#111" stroke-width="0.3">1F</text>
</svg>
</body>
</html>
